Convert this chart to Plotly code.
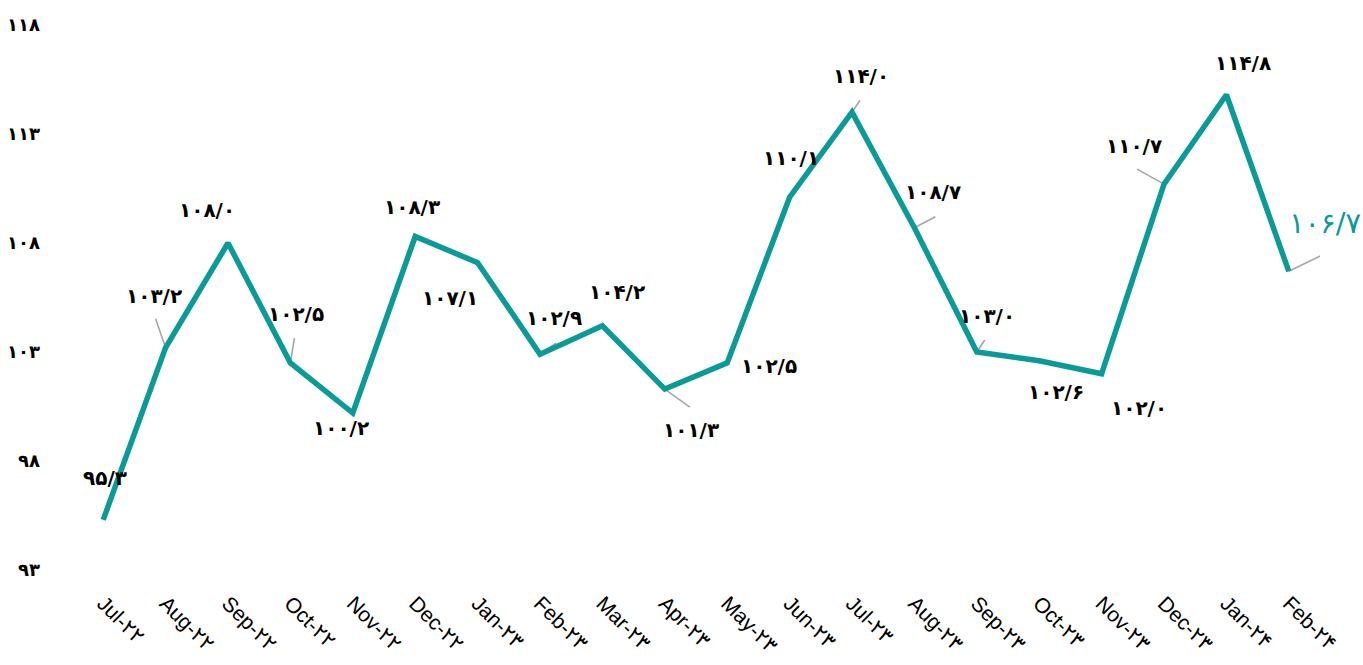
import plotly.graph_objects as go

# Monthly index values
months = ["Jul-22", "Aug-22", "Sep-22", "Oct-22", "Nov-22", "Dec-22",
          "Jan-23", "Feb-23", "Mar-23", "Apr-23", "May-23", "Jun-23",
          "Jul-23", "Aug-23", "Sep-23", "Oct-23", "Nov-23", "Dec-23",
          "Jan-24", "Feb-24"]
values = [95.3, 103.2, 108.0, 102.5, 100.2, 108.3,
          107.1, 102.9, 104.2, 101.3, 102.5, 110.1,
          114.0, 108.7, 103.0, 102.6, 102.0, 110.7,
          114.8, 106.7]
y_ticks = [93, 98, 103, 108, 113, 118]

FA_DIGITS = str.maketrans("0123456789", "۰۱۲۳۴۵۶۷۸۹")


def fa(s):
    return str(s).translate(FA_DIGITS)


def fa_month(m):
    name, yy = m.split("-")
    return name + "-" + fa(yy)


def fa_value(v):
    return fa(f"{v:.1f}").replace(".", "/")


TEAL = "#0a9b98"
x_idx = list(range(len(months)))

fig = go.Figure()
fig.add_trace(go.Scatter(
    x=x_idx, y=values, mode="lines",
    line=dict(color=TEAL, width=5.5),
    hoverinfo="skip", showlegend=False,
))

# label offsets from each point, in screen pixels (dx right, dy down)
label_offsets = [(2, -42), (-12, -52), (-21, -33), (6, -49), (-12, 15), (-3, -29),
                 (-28, 35), (14, -36), (15, -34), (26, 41), (42, 3), (1, -39),
                 (9, -36), (19, -36), (10, -36), (17, 31), (37, 34), (-30, -38),
                 (17, -32), (36, -48)]
# leader lines: point index -> end offset in pixels
leaders = {1: (-10, -29), 3: (4, -25), 7: (16, -11), 9: (25, 18), 12: (8, -12),
           13: (21, -11), 14: (8, -12), 17: (-27, -15), 19: (33, -16)}

for i, (xv, yv) in enumerate(zip(x_idx, values)):
    dx, dy = label_offsets[i]
    last = i == len(values) - 1
    fig.add_annotation(
        x=xv, y=yv, text=fa_value(yv), showarrow=False,
        xshift=dx, yshift=-dy,
        font=dict(family="DejaVu Sans", size=29 if last else 20,
                  color=TEAL if last else "#000000",
                  weight="normal" if last else "bold"),
    )
    if i in leaders:
        lx, ly = leaders[i]
        fig.add_shape(
            type="line", xref="x", yref="y",
            xsizemode="pixel", ysizemode="pixel",
            xanchor=xv, yanchor=yv,
            x0=0, x1=lx, y0=0, y1=-ly,
            line=dict(color="#a6a6a6", width=1.6),
            layer="below",
        )

fig.update_layout(
    width=1363, height=665,
    margin=dict(l=72, r=43, t=25, b=95),
    paper_bgcolor="white", plot_bgcolor="white",
    xaxis=dict(
        range=[-0.5, len(months) - 0.5], automargin=False,
        tickvals=x_idx, ticktext=[fa_month(m) for m in months],
        tickangle=45, showgrid=False, zeroline=False, showline=False,
        ticks="", ticklabelstandoff=16,
        tickfont=dict(family="Liberation Sans, DejaVu Sans", size=21, color="#000"),
    ),
    yaxis=dict(
        range=[93, 118], tickvals=y_ticks, ticktext=[fa(t) for t in y_ticks],
        automargin=False,
        showgrid=False, zeroline=False, showline=False, ticks="",
        ticklabelstandoff=31,
        tickfont=dict(family="DejaVu Sans", size=18, color="#000", weight="bold"),
    ),
)

fig.write_html("out.html")
